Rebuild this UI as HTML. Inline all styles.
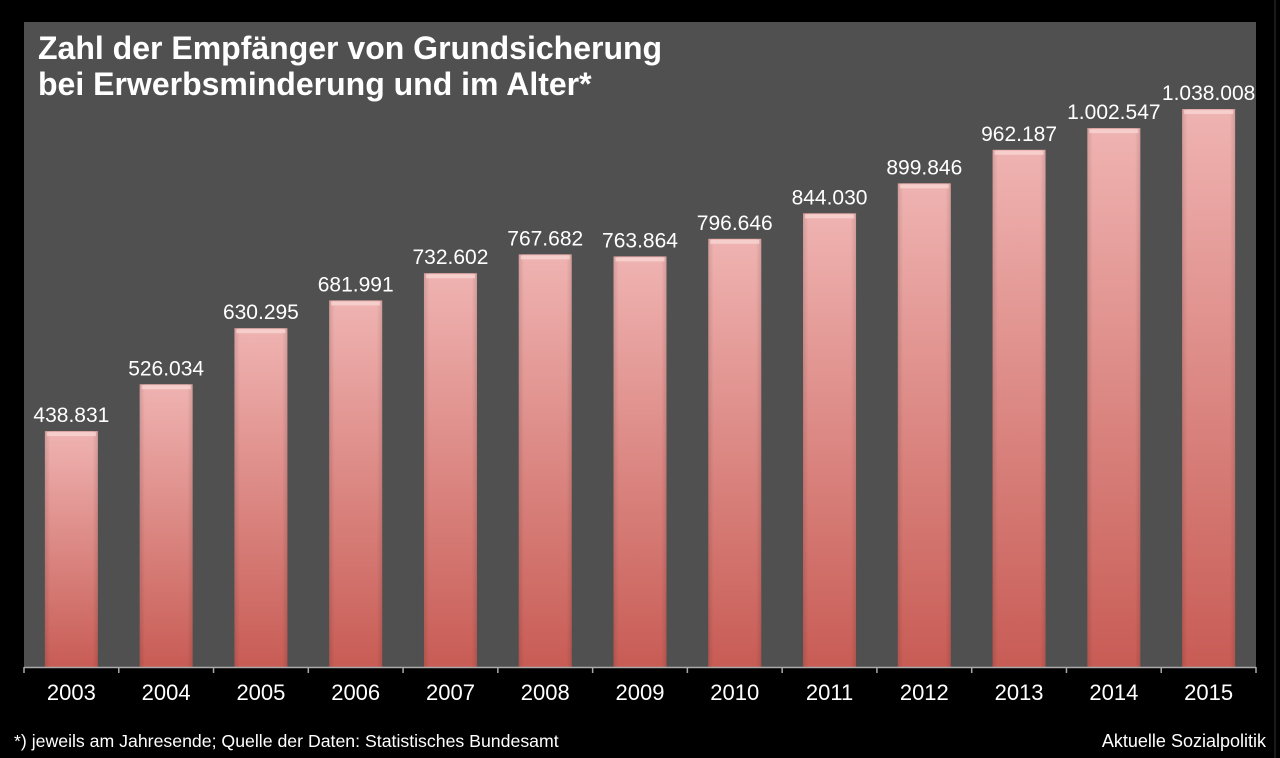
<!DOCTYPE html>
<html><head><meta charset="utf-8"><style>
body{margin:0;background:#000;width:1280px;height:758px;overflow:hidden;font-family:"Liberation Sans",sans-serif}
svg{display:block}
</style></head><body>
<svg width="1280" height="758">
<defs>
<linearGradient id="bg" x1="0" y1="0" x2="0" y2="1"><stop offset="0" stop-color="#efb3b1"/><stop offset="1" stop-color="#c85c55"/></linearGradient>
<linearGradient id="sh" x1="0" y1="0" x2="1" y2="0"><stop offset="0" stop-color="#000" stop-opacity="0.12"/><stop offset="0.1" stop-color="#000" stop-opacity="0"/><stop offset="0.9" stop-color="#000" stop-opacity="0"/><stop offset="1" stop-color="#000" stop-opacity="0.12"/></linearGradient>
</defs>
<rect x="0" y="0" width="1280" height="758" fill="#000"/>
<rect x="24" y="22" width="1232" height="645" fill="#505050"/>
<line x1="1275" y1="0" x2="1275" y2="758" stroke="#333" stroke-width="1"/>
<text x="38" y="59" fill="#fff" font-size="32" font-weight="bold">Zahl der Empfänger von Grundsicherung</text>
<text x="38" y="95" fill="#fff" font-size="32" font-weight="bold">bei Erwerbsminderung und im Alter*</text>
<g id="bars"></g>
<line x1="24" y1="667.5" x2="1256" y2="667.5" stroke="#aaa" stroke-width="1.5"/>
<g id="ticks"></g>
<text x="14" y="747" fill="#fff" font-size="17.7">*) jeweils am Jahresende; Quelle der Daten: Statistisches Bundesamt</text>
<text x="1266" y="747" fill="#fff" font-size="18" text-anchor="end">Aktuelle Sozialpolitik</text>
</svg>
<script>
const years=["2003","2004","2005","2006","2007","2008","2009","2010","2011","2012","2013","2014","2015"];
const values=[438831,526034,630295,681991,732602,767682,763864,796646,844030,899846,962187,1002547,1038008];
const valueLabels=["438.831","526.034","630.295","681.991","732.602","767.682","763.864","796.646","844.030","899.846","962.187","1.002.547","1.038.008"];
const NS="http://www.w3.org/2000/svg";
const x0=24,x1=1256,yBase=667,yTop=22,yMax=1200000;
const step=(x1-x0)/years.length;
function xc(i){return x0+step*(i+0.5);}
function y(v){return yBase-(v/yMax)*(yBase-yTop);}
const bw=53;
const gb=document.getElementById('bars'),gt=document.getElementById('ticks');
function mk(t,a){const e=document.createElementNS(NS,t);for(const k in a)e.setAttribute(k,a[k]);return e;}
years.forEach((yr,i)=>{
 const top=y(values[i]),cx=xc(i);
 const r=mk('rect',{x:cx-bw/2,y:top,width:bw,height:yBase-top,fill:'url(#bg)'});
 
 
 gb.appendChild(r);
 const s=mk('rect',{x:cx-bw/2,y:top,width:bw,height:yBase-top,fill:'url(#sh)'});
 gb.appendChild(s);
 const hl=mk('rect',{x:cx-bw/2+2,y:top+1,width:bw-4,height:4,fill:'#f8d4d2',opacity:0.8});
 gb.appendChild(hl);
 const t=mk('text',{x:cx,y:top-9,fill:'#fff','font-size':21,'text-anchor':'middle'});
 t.textContent=valueLabels[i];
 
 
 gb.appendChild(t);
 const l=mk('text',{x:cx,y:700,fill:'#fff','font-size':22,'text-anchor':'middle'});
 l.textContent=yr;
 
 
 gt.appendChild(l);
});
for(let i=0;i<=years.length;i++){
 const tx=x0+step*i;
 gt.appendChild(mk('line',{x1:tx,y1:667,x2:tx,y2:673,stroke:'#aaa','stroke-width':1.5}));
}
</script>
</body></html>
